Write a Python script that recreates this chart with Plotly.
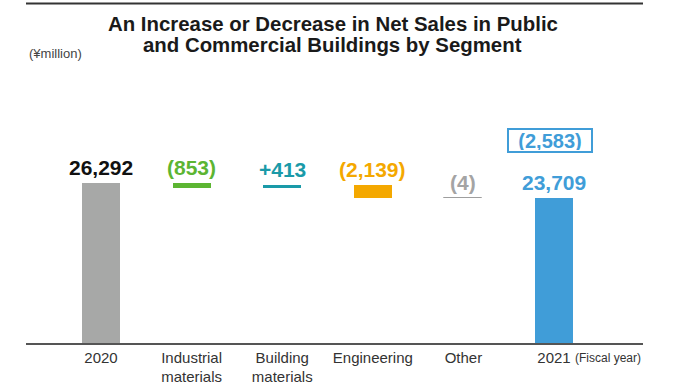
import plotly.graph_objects as go

# ---------------- data ----------------
categories = ["2020", "Industrial<br>materials", "Building<br>materials", "Engineering", "Other", "2021"]
start_value = 26292
deltas = [-853, 413, -2139, -4]
end_value = 23709
total_change = end_value - start_value  # -2583

# ---------------- styles ----------------
bar_colors = ["#a7a8a7", "#5cb532", "#1a9aa8", "#f4a800", "#9e9e9e", "#409dd8"]
label_colors = ["#111111", "#5cb532", "#1a9aa8", "#f4a800", "#a4a4a4", "#409dd8"]
FONT = "Liberation Sans, Arial, sans-serif"


def fmt_delta(v):
    return f"({abs(v):,})" if v < 0 else f"+{v:,}"


# waterfall geometry derived from the data
bases = [0]
heights = [start_value]
cum = start_value
for d in deltas:
    bases.append(cum)
    heights.append(d)
    cum += d
bases.append(0)
heights.append(end_value)
tops = [max(b, b + h) for b, h in zip(bases, heights)]
labels = [f"{start_value:,}"] + [fmt_delta(d) for d in deltas] + [f"{end_value:,}"]
idx = list(range(len(categories)))
last = idx[-1]

line_widths = [0, 0, 0, 0, 1, 0]

fig = go.Figure()
fig.add_trace(go.Bar(
    x=categories, y=heights, base=bases, width=0.42,
    marker=dict(color=bar_colors, line=dict(color=bar_colors, width=line_widths)),
    hoverinfo="skip", showlegend=False,
))

annotations = []
for i, t, lab, col in zip(idx, tops, labels, label_colors):
    annotations.append(dict(
        x=i, y=t, xref="x", yref="y", text=f"<b>{lab}</b>", showarrow=False,
        yanchor="bottom", yshift=2,
        font=dict(family=FONT, size=21, color=col),
    ))

# total change box
annotations.append(dict(
    x=last, y=end_value, xref="x", yref="y",
    text=f"<b>({abs(total_change):,})</b>", showarrow=False,
    yanchor="middle", yshift=58, xshift=-4,
    width=80, height=19, borderpad=1, borderwidth=2, bordercolor="#409dd8",
    font=dict(family=FONT, size=20, color="#409dd8"),
))

# title lines
annotations.append(dict(
    x=0.497, y=1, xref="paper", yref="paper", yanchor="middle", yshift=36,
    text="<b>An Increase or Decrease in Net Sales in Public</b>", showarrow=False,
    font=dict(family=FONT, size=20.4, color="#1a1a1a"),
))
annotations.append(dict(
    x=0.497, y=1, xref="paper", yref="paper", yanchor="middle", yshift=15,
    text="<b>and Commercial Buildings by Segment</b>", showarrow=False,
    font=dict(family=FONT, size=20.4, color="#1a1a1a"),
))
# unit
annotations.append(dict(
    x=0.002, y=1, xref="paper", yref="paper", xanchor="left", yanchor="middle", yshift=7,
    text="(¥million)", showarrow=False,
    font=dict(family=FONT, size=13, color="#444444"),
))
# fiscal year note
annotations.append(dict(
    x=last, y=0, xref="x", yref="paper", xanchor="left", yanchor="middle",
    xshift=19, yshift=-14.5, text="(Fiscal year)", showarrow=False,
    font=dict(family=FONT, size=12, color="#333333"),
))

fig.update_layout(
    width=678, height=382,
    margin=dict(l=26, r=35, t=60, b=39, autoexpand=False),
    paper_bgcolor="white", plot_bgcolor="white",
    annotations=annotations,
    shapes=[dict(type="line", xref="paper", yref="paper", x0=0, x1=1,
                 y0=1 + 56.5 / 283, y1=1 + 56.5 / 283, layer="above",
                 line=dict(color="#333333", width=2))],
    xaxis=dict(
        type="category", range=[-0.828, 5.982], showgrid=False, zeroline=False,
        showline=True, linecolor="#555555", linewidth=1.5, ticks="", automargin=False,
        tickfont=dict(family=FONT, size=15, color="#333333"),
    ),
    yaxis=dict(range=[0, 46400], visible=False, showgrid=False, zeroline=False, automargin=False),
    bargap=0,
)

fig.write_html("out.html", config={"displayModeBar": False},
               post_script="document.body.style.margin='0';")
